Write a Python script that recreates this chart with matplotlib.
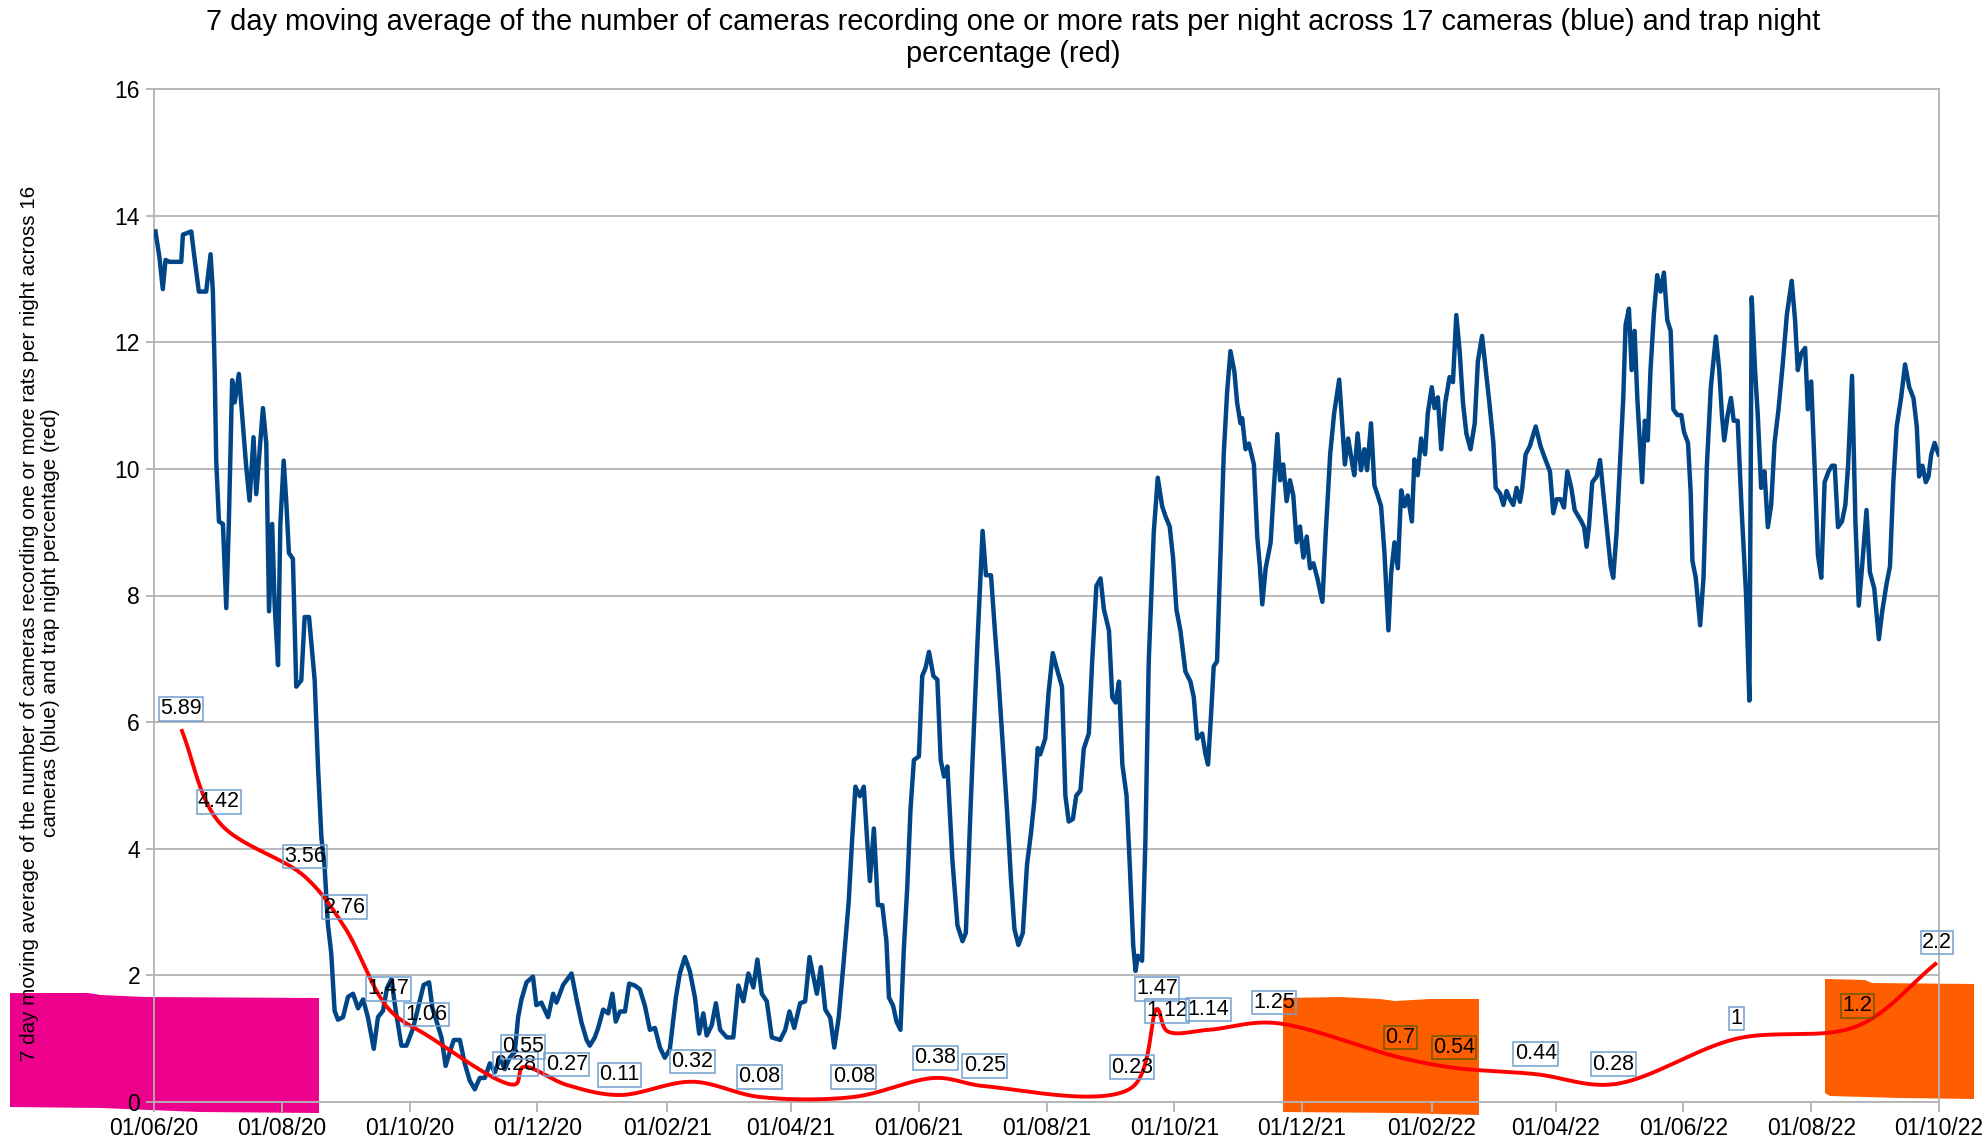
import datetime as dt
import numpy as np
import matplotlib
matplotlib.use("Agg")
import matplotlib.pyplot as plt
import matplotlib.dates as mdates
from matplotlib.patches import Polygon
from matplotlib.path import Path

plt.rcParams['font.family'] = ['Liberation Sans', 'DejaVu Sans']

# ---------------- data ----------------
START = dt.datetime(2020, 6, 1)
END = dt.datetime(2022, 10, 1)

TITLE = ("7 day moving average of the number of cameras recording one or more rats per night across 17 cameras (blue) and trap night\n"
         "percentage (red)")
YLABEL = ("7 day moving average of the number of cameras recording one or more rats per night across 16\n"
          "cameras (blue) and trap night percentage (red)")

# blue series: days since 01/06/20 and 7-day moving average
blue_day = [0.7, 2.6, 4.2, 5.5, 7.4, 13, 13.8, 17.8, 19.3, 21.4, 24.9, 27, 28.1, 29, 29.7, 31, 32.9, 34.5, 35.7, 37.3,
            38.5, 40.5, 41.6, 44, 45.6, 47.5, 48.8, 52, 53.6, 54.9, 56.4, 57.6, 59.2, 60.3, 61.9, 63.1, 64.4, 66.3, 67.9, 70.3,
            71.9, 74, 76.7, 78.3, 79.9, 81.4, 83, 84.6, 86.2, 87.8, 90.2, 92.6, 95, 97.4, 99.8, 102.1, 104.9, 106.9, 109.3, 111.2,
            113.3, 115.4, 118.1, 120.5, 123.6, 126, 128.7, 131.3, 132.9, 135.1, 137.2, 139.2, 141.2, 143.1, 146, 148.3, 150.7, 153.1, 155.5, 157.9,
            160.3, 162.7, 165.1, 167.4, 169.8, 172.2, 173.8, 175.4, 177.8, 180.9, 182.5, 184.9, 188.1, 190.5, 192.1, 195.3, 199.3, 201.7, 204.1, 206.5,
            208, 210.4, 212, 214.4, 216.8, 218.8, 220.4, 222.4, 224.8, 226.8, 229.5, 231.9, 234.3, 236.7, 239.1, 241.5, 243.8, 246.2, 249.1, 251,
            253.4, 255.8, 258.2, 260.2, 262.2, 263.8, 266.2, 268.2, 270.2, 273.4, 276.5, 278.9, 281.3, 283.7, 286.1, 288, 290.1, 292.5, 294.9, 298.9,
            301.3, 303.3, 305.6, 308.4, 310.8, 312.9, 314.8, 316.4, 318.3, 320.4, 322.8, 324.7, 326.8, 329.2, 331.6, 333.2, 334.8, 336.9, 338.8, 340.4,
            341.7, 343.6, 345.5, 347.6, 349.6, 350.8, 352.8, 354.4, 356.3, 357.9, 359.5, 361.1, 362.7, 365.1, 366.7, 368.3, 369.9, 372, 373.9, 375.5,
            377.1, 378.7, 381.1, 383.5, 385.9, 387.5, 389.9, 391.5, 393.1, 395.5, 397.1, 399.5, 401.4, 403, 405.1, 407.1, 409.1, 410.7, 412.6, 414.7,
            416.7, 418.6, 420.2, 421.8, 423, 425.4, 427, 429, 431.3, 433.4, 435, 436.6, 438.6, 440.2, 442.2, 443.8, 446.2, 447.8, 449.8, 451.8,
            453.4, 455.8, 457.4, 459, 460.6, 462.2, 464.2, 465.8, 467.4, 468.5, 469.6, 471.6, 473.2, 474.8, 477.2, 479.1, 481.2, 482.8, 484.8, 486.4,
            488, 489.9, 492.3, 494.7, 496.3, 497.9, 500.3, 501.9, 503.1, 504.6, 505.8, 507.4, 509, 510.6, 512.2, 513.8, 515.7, 517, 518.6, 519.4,
            521, 522.6, 525, 526.6, 527.9, 529, 530.6, 533, 534.6, 536.2, 537.5, 539, 540.6, 542.2, 543.8, 545.4, 547, 548.6, 550.2, 551.8,
            553.4, 555.3, 557.7, 559.3, 561.4, 563.3, 565.7, 567.3, 568.4, 570, 571.6, 572.9, 574.5, 576.1, 577.7, 579, 580.9, 582.5, 584.1, 585.7,
            587.3, 589.2, 590.5, 592.1, 593.7, 595.3, 596.9, 598.4, 600.4, 601.6, 603.2, 604.8, 606.7, 608, 609.9, 611.2, 612.8, 614.4, 616.3, 618.4,
            620, 621.6, 623.2, 624.8, 626.4, 628.4, 630.4, 631.9, 633.9, 635.8, 637.4, 639.3, 640.4, 642.5, 644.1, 645.6, 647.2, 648.8, 650.4, 652,
            653.1, 654.7, 656.7, 659.5, 661.8, 664.2, 666.3, 667.9, 669.5, 671.4, 673, 674.6, 676.5, 678.1, 679.7, 681.3, 682.6, 683.8, 684.9, 686.5,
            688.6, 690.2, 692.1, 693.7, 695.3, 696.5, 698.1, 699.7, 701.3, 702.4, 704, 705.3, 706.7, 708, 709.2, 710.3, 711.6, 713, 714.3, 715.9,
            717.5, 719.1, 720.7, 722.3, 723.9, 725.2, 727.1, 729, 730.3, 732.2, 733.5, 734.3, 735.9, 738, 739.6, 741.2, 743.1, 745.5, 747.1, 748.4,
            749.5, 751.1, 752.7, 754, 755.9, 757.8, 759.9, 761.5, 762.6, 764.2, 765.5, 767.1, 768.7, 770.3, 771.9, 773.5, 775.4, 777.4, 779.4, 781.7,
            783.3, 784.6, 786.2, 788.1, 789.4, 791, 792.6, 794.2, 795.8, 797.4, 799.3, 800.9, 802.2, 803.8, 805.7, 807.3, 808.6, 810.5, 812.1, 813.7,
            815.3, 817.4, 819, 821.1, 823.3, 824.9, 827, 828.6, 830.2, 831.8, 833.9, 835.8, 837.8, 839.8, 841.4, 842.5, 844.1, 845.7, 847, 848.3,
            849.9, 851.8]
blue_val = [13.75, 13.34, 12.84, 13.3, 13.27, 13.27, 13.7, 13.75, 13.34, 12.8, 12.8, 13.39, 12.8, 11.5, 10.13, 9.17, 9.13, 7.8, 9.13, 11.4,
            11.05, 11.5, 11.05, 10.04, 9.5, 10.5, 9.6, 10.96, 10.4, 7.75, 9.13, 7.85, 6.9, 9.13, 10.13, 9.5, 8.67, 8.58, 6.56, 6.66,
            7.66, 7.66, 6.66, 5.28, 4.18, 3.73, 2.81, 2.35, 1.44, 1.3, 1.34, 1.66, 1.71, 1.48, 1.62, 1.34, 0.84, 1.34, 1.44, 1.8,
            1.94, 1.44, 0.89, 0.89, 1.16, 1.48, 1.85, 1.89, 1.48, 1.25, 1.02, 0.57, 0.79, 0.98, 0.98, 0.61, 0.34, 0.2, 0.38, 0.38,
            0.61, 0.47, 0.7, 0.52, 0.7, 0.79, 1.34, 1.62, 1.89, 1.98, 1.53, 1.57, 1.34, 1.71, 1.57, 1.85, 2.03, 1.62, 1.25, 0.98,
            0.89, 1.02, 1.17, 1.46, 1.4, 1.71, 1.27, 1.43, 1.43, 1.87, 1.84, 1.78, 1.52, 1.14, 1.17, 0.86, 0.7, 0.83, 1.65, 2.03,
            2.29, 2.06, 1.65, 1.08, 1.4, 1.05, 1.21, 1.56, 1.14, 1.02, 1.02, 1.84, 1.59, 2.03, 1.81, 2.25, 1.71, 1.59, 1.02, 0.98,
            1.14, 1.43, 1.17, 1.56, 1.59, 2.29, 1.97, 1.71, 2.13, 1.46, 1.33, 0.86, 1.33, 2.22, 3.17, 4.13, 4.98, 4.83, 4.98, 4.13,
            3.49, 4.32, 3.11, 3.11, 2.54, 1.65, 1.52, 1.27, 1.14, 2.41, 3.37, 4.63, 5.4, 5.46, 6.73, 6.86, 7.11, 6.73, 6.67, 5.4,
            5.14, 5.3, 3.81, 2.79, 2.54, 2.67, 4.76, 6.03, 7.3, 9.02, 8.32, 8.32, 7.43, 6.73, 5.65, 4.63, 3.49, 2.73, 2.48, 2.67,
            3.75, 4.25, 4.76, 5.59, 5.49, 5.74, 6.47, 7.09, 6.8, 6.56, 4.84, 4.43, 4.47, 4.84, 4.92, 5.58, 5.82, 6.96, 8.15, 8.27,
            7.78, 7.45, 6.39, 6.31, 6.64, 5.33, 4.84, 3.7, 2.47, 2.07, 2.31, 2.23, 4.11, 6.96, 9.0, 9.86, 9.41, 9.25, 9.09, 8.6,
            7.78, 7.45, 6.8, 6.64, 6.39, 5.74, 5.82, 5.49, 5.33, 6.15, 6.88, 6.96, 8.6, 10.23, 11.21, 11.86, 11.53, 11.04, 10.72, 10.8,
            10.31, 10.4, 10.07, 8.93, 8.43, 7.86, 8.43, 8.84, 9.74, 10.55, 9.82, 10.07, 9.49, 9.82, 9.58, 8.84, 9.09, 8.6, 8.93, 8.43,
            8.51, 8.27, 7.9, 9.0, 10.23, 10.88, 11.41, 10.64, 10.07, 10.48, 10.15, 9.9, 10.56, 9.98, 10.31, 9.98, 10.72, 9.74, 9.58, 9.41,
            8.68, 7.45, 8.35, 8.84, 8.43, 9.66, 9.41, 9.58, 9.17, 10.15, 9.9, 10.48, 10.23, 10.88, 11.29, 10.96, 11.13, 10.31, 11.04, 11.45,
            11.37, 12.43, 11.86, 11.04, 10.56, 10.31, 10.72, 11.7, 12.1, 11.53, 11.04, 10.41, 9.7, 9.61, 9.43, 9.65, 9.52, 9.43, 9.7, 9.48,
            9.7, 10.23, 10.36, 10.67, 10.36, 10.14, 9.96, 9.3, 9.52, 9.52, 9.39, 9.96, 9.7, 9.35, 9.26, 9.17, 9.08, 8.77, 9.08, 9.79,
            9.88, 10.14, 9.52, 8.99, 8.46, 8.28, 8.99, 10.05, 11.12, 12.27, 12.53, 11.56, 12.18, 11.12, 10.41, 9.79, 10.76, 10.45, 11.56, 12.44,
            13.06, 12.8, 13.1, 12.35, 12.18, 10.94, 10.85, 10.85, 10.58, 10.41, 9.61, 8.55, 8.28, 7.53, 8.28, 10.05, 11.29, 12.09, 11.56, 10.85,
            10.45, 10.85, 11.12, 10.76, 10.76, 9.35, 8.02, 6.34, 12.71, 11.56, 10.85, 9.7, 9.96, 9.08, 9.43, 10.41, 10.94, 11.65, 12.44, 12.97,
            12.35, 11.56, 11.82, 11.91, 10.94, 11.38, 10.05, 8.64, 8.28, 9.79, 9.96, 10.05, 10.05, 9.08, 9.17, 9.43, 10.05, 11.47, 9.17, 7.84,
            8.46, 9.35, 8.37, 8.11, 7.31, 7.75, 8.19, 8.46, 9.79, 10.67, 11.12, 11.65, 11.29, 11.12, 10.67, 9.88, 10.05, 9.79, 9.88, 10.23,
            10.41, 10.23]

# red series: trap night percentage (days since 01/06/20)
red_day = [13, 31, 72, 91, 112, 130, 172.5, 176, 197, 222, 257, 289, 334, 373, 396.5,
           466.8, 478.8, 483.6, 503.4, 534.5, 595, 620.5, 659.5, 696.6, 755.4, 813, 851]
red_val = [5.89, 4.42, 3.56, 2.76, 1.47, 1.06, 0.28, 0.55, 0.27, 0.11, 0.32, 0.08, 0.08, 0.38, 0.25,
           0.23, 1.47, 1.12, 1.14, 1.25, 0.7, 0.54, 0.44, 0.28, 1, 1.2, 2.2]

Y_TICKS = [0, 2, 4, 6, 8, 10, 12, 14, 16]

# highlighter marks drawn over the chart (figure pixel coordinates, origin top-left)
MAGENTA_MARK = [(10, 993), (88, 993), (101, 995), (145, 997), (319, 998), (319, 1113), (200, 1112), (100, 1108), (10, 1107)]
ORANGE_MARK_1 = [(1283, 998), (1340, 997), (1380, 999), (1395, 1001), (1430, 999), (1479, 999), (1479, 1115), (1400, 1113), (1283, 1112)]
ORANGE_MARK_2 = [(1825, 979), (1865, 980), (1872, 983), (1974, 984), (1974, 1099), (1900, 1098), (1830, 1096), (1825, 1093)]

W, H = 1985, 1145

# ---------------- helpers ----------------
def catmull_rom(P, n_seg=200, alpha=0.5):
    """Centripetal Catmull-Rom curve through the points P (N x 2, screen space)."""
    P = np.asarray(P, float)
    ext = np.vstack([2 * P[0] - P[1], P, 2 * P[-1] - P[-2]])
    out = []
    for i in range(1, len(ext) - 2):
        p0, p1, p2, p3 = ext[i - 1], ext[i], ext[i + 1], ext[i + 2]
        t0 = 0.0
        t1 = t0 + max(np.linalg.norm(p1 - p0), 1e-6) ** alpha
        t2 = t1 + max(np.linalg.norm(p2 - p1), 1e-6) ** alpha
        t3 = t2 + max(np.linalg.norm(p3 - p2), 1e-6) ** alpha
        t = np.linspace(t1, t2, n_seg)[:, None]
        a1 = (t1 - t) / (t1 - t0) * p0 + (t - t0) / (t1 - t0) * p1
        a2 = (t2 - t) / (t2 - t1) * p1 + (t - t1) / (t2 - t1) * p2
        a3 = (t3 - t) / (t3 - t2) * p2 + (t - t2) / (t3 - t2) * p3
        b1 = (t2 - t) / (t2 - t0) * a1 + (t - t0) / (t2 - t0) * a2
        b2 = (t3 - t) / (t3 - t1) * a2 + (t - t1) / (t3 - t1) * a3
        c = (t2 - t) / (t2 - t1) * b1 + (t - t1) / (t2 - t1) * b2
        out.append(c if i == 1 else c[1:])
    return np.vstack(out)


def to_fig(poly):
    return [(x / W, 1 - y / H) for x, y in poly]

# ---------------- figure ----------------
fig = plt.figure(figsize=(W / 100, H / 100), dpi=100)
fig.patch.set_facecolor('white')

for poly, col in [(MAGENTA_MARK, '#ec008c'), (ORANGE_MARK_1, '#ff5e00'), (ORANGE_MARK_2, '#ff5e00')]:
    fig.add_artist(Polygon(to_fig(poly), closed=True, transform=fig.transFigure,
                           facecolor=col, edgecolor='none', zorder=-1))

ax = fig.add_axes([154 / W, 1 - 1102 / H, (1939 - 154) / W, (1102 - 89) / H])
ax.set_facecolor('none')
ax.set_xlim(mdates.date2num(START), mdates.date2num(END))
ax.set_ylim(0, 16)

base = mdates.date2num(START)
bx = base + np.asarray(blue_day)
ax.plot(bx, blue_val, color='#004586', lw=3.2, solid_joinstyle='round', zorder=3)

# smoothed line through the red points (spline computed in screen space)
rx = base + np.asarray(red_day, float); rv = np.asarray(red_val, float)
pix = ax.transData.transform(np.column_stack([rx, rv]))
curve_pix = catmull_rom(pix)
curve = ax.transData.inverted().transform(curve_pix)
ax.plot(curve[:, 0], curve[:, 1], color='#ff0000', lw=2.8, zorder=4, solid_capstyle='butt')

ax.set_yticks(Y_TICKS)
ax.xaxis.set_major_locator(mdates.MonthLocator(bymonth=(2, 4, 6, 8, 10, 12), bymonthday=1))
ax.xaxis.set_major_formatter(mdates.DateFormatter('%d/%m/%y'))
ax.grid(axis='y', color='#b3b3b3', lw=1.3, zorder=0)
ax.set_axisbelow(True)
for s in ax.spines.values():
    s.set_color('#b3b3b3'); s.set_linewidth(1.3)
ax.tick_params(axis='x', colors='#b3b3b3', labelcolor='black', length=7, width=1.3, labelsize=16.5, pad=4)
ax.tick_params(axis='y', colors='#b3b3b3', labelcolor='black', length=6, width=1.3, labelsize=16.5, pad=4)

# data labels
orange_paths = [Path([(x, H - y) for x, y in p]) for p in (ORANGE_MARK_1, ORANGE_MARK_2)]
for d, v in zip(red_day, red_val):
    px, py = ax.transData.transform((base + d, v))
    inside = any(p.contains_point((px, py + 22)) for p in orange_paths)
    ec = '#6a5a00' if inside else '#729fcf'
    ax.annotate(f'{v:g}', (base + d, v), xytext=(0, 7), textcoords='offset points',
                ha='center', va='bottom', fontsize=15.5, color='black', zorder=6,
                annotation_clip=False,
                bbox=dict(boxstyle='square,pad=0.06', fc='none', ec=ec, lw=1.1))

fig.text(1013 / W, 1 - 38 / H, TITLE, ha='center', va='center', fontsize=20.9,
         multialignment='center', linespacing=1.15)
fig.text(40 / W, 1 - 623 / H, YLABEL, rotation=90, ha='center', va='center',
         fontsize=14.9, multialignment='center', linespacing=1.1)

fig.savefig('out.png', dpi=100)
